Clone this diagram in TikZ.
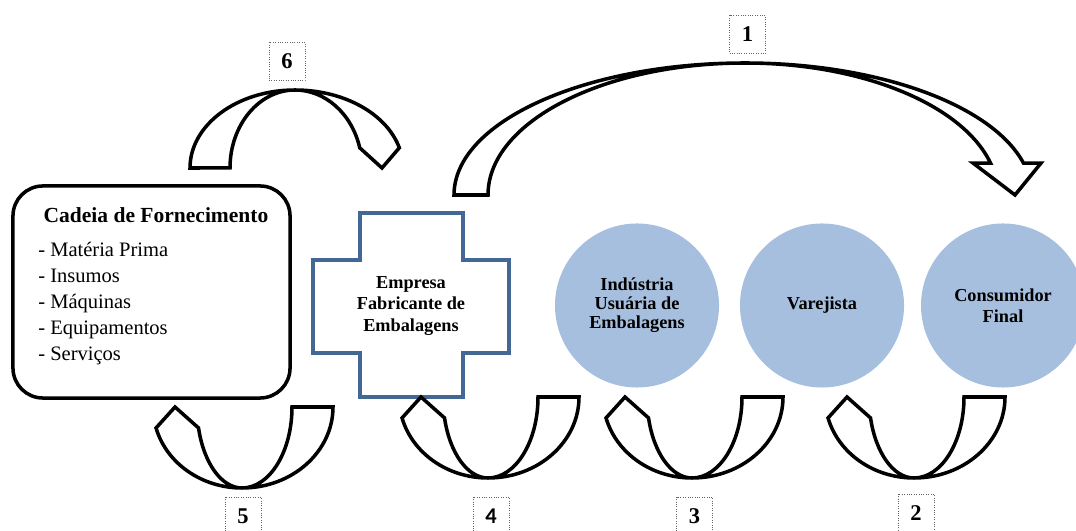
\documentclass[tikz,border=0pt]{standalone}
\usepackage{fontspec}
\setmainfont{Liberation Serif}
\newfontfamily\carlito{Carlito}
\usepackage{tikz}
\usetikzlibrary{positioning}
\definecolor{crossblue}{RGB}{68,104,150}
\definecolor{circfill}{RGB}{167,191,222}
\definecolor{dotgray}{RGB}{100,100,100}

\begin{document}
\begin{tikzpicture}[
      x=0.025cm, y=0.025cm,
      blk/.style={draw, line width=2.5pt, fill=white, line join=miter},
      circ/.style={circle, fill=circfill, minimum size=4.1cm, inner sep=0pt, align=center,
                   font=\fontsize{13}{13.5}\selectfont\bfseries},
      numbox/.style={draw=dotgray, densely dotted, line width=0.7pt, minimum width=0.9cm,
                     minimum height=0.95cm, inner sep=0pt, font=\fontsize{16}{16}\selectfont\bfseries},
      pics/curvup/.style={code={
        \draw[blk] (91,0) arc[start angle=0, end angle=-90, x radius=91, y radius=81]
          arc[start angle=270, end angle=195, x radius=89, y radius=81]
          -- (-67,0) -- (-43.47,-20.96)
          arc[start angle=195, end angle=270, x radius=45, y radius=81]
          arc[start angle=-90, end angle=0, x radius=50, y radius=81] -- cycle;
      }}
    ]
    \useasboundingbox (0,0) rectangle (1076,531);
    \clip (0,0) rectangle (1076,531);

    % --- Cadeia de Fornecimento ---
    \node[draw, line width=2.5pt, rounded corners=0.75cm, minimum width=6.925cm,
          minimum height=5.3cm] (cadeia) at (151.5,239) {};
    \node[font=\fontsize{15.3}{16}\selectfont\bfseries] (titulo) at (156,316) {Cadeia de Fornecimento};
    \node[anchor=west, align=left, inner sep=0pt, font=\fontsize{14.6}{18.5}\selectfont]
      (itens) at (38,227.5) {- Matéria Prima\\- Insumos\\- Máquinas\\- Equipamentos\\- Serviços};

    % --- Empresa (cross) ---
    \draw[crossblue, line width=2.3pt] (360,318) -- (463,318) -- (463,271) -- (509,271)
      -- (509,178) -- (463,178) -- (463,134) -- (360,134) -- (360,178) -- (313,178)
      -- (313,271) -- (360,271) -- cycle;
    \node[align=center, font=\fontsize{13}{15.3}\selectfont\bfseries] (emp) at (411,225)
      {Empresa\\Fabricante de\\Embalagens};

    % --- Circles ---
    \node[circ] (ind)  at (637,225.5) {Indústria\\Usuária de\\Embalagens};
    \node[circ] (var)  at (822,225.5) {Varejista};
    \node[circ, font=\fontsize{13}{15}\selectfont\bfseries] (cons) at (1003,225.5) {Consumidor\\Final};

    % --- Top arrows ---
    \begin{scope}[shift={(295,363)}]
      \draw[blk] (-105,0) arc[start angle=180, end angle=90, x radius=105, y radius=78]
        arc[start angle=90, end angle=15, x radius=108, y radius=78]
        -- (87,0) -- (64.72,20.19)
        arc[start angle=15, end angle=90, x radius=67, y radius=78]
        arc[start angle=90, end angle=180, x radius=65, y radius=78] -- cycle;
    \end{scope}
    \begin{scope}[shift={(745,336)}]
      \draw[blk] (-291,0) arc[start angle=180, end angle=90, x radius=291, y radius=132]
        arc[start angle=90, end angle=14, x radius=287, y radius=132]
        -- (296,31.93) -- (270,0) -- (228,31.93) -- (245.49,31.93)
        arc[start angle=14, end angle=90, x radius=253, y radius=132]
        arc[start angle=90, end angle=180, x radius=257, y radius=132] -- cycle;
    \end{scope}

    % --- Bottom arrows ---
    \pic (a5) at (242,124) {curvup};
    \pic (a4) at (488,134) {curvup};
    \pic (a3) at (692,134) {curvup};
    \pic (a2) at (914,134) {curvup};

    % --- Numbers ---
    \node[numbox] (n6) at (287,469.5) {6};
    \node[numbox] (n1) at (747.5,496.5) {1};
    \node[numbox] (n5) at (243,15) {5};
    \node[numbox, font=\fontsize{16}{16}\selectfont\carlito\bfseries] (n4) at (491,15) {4};
    \node[numbox] (n3) at (694.5,15) {3};
    \node[numbox] (n2) at (916,18) {2};

  \end{tikzpicture}
\end{document}
